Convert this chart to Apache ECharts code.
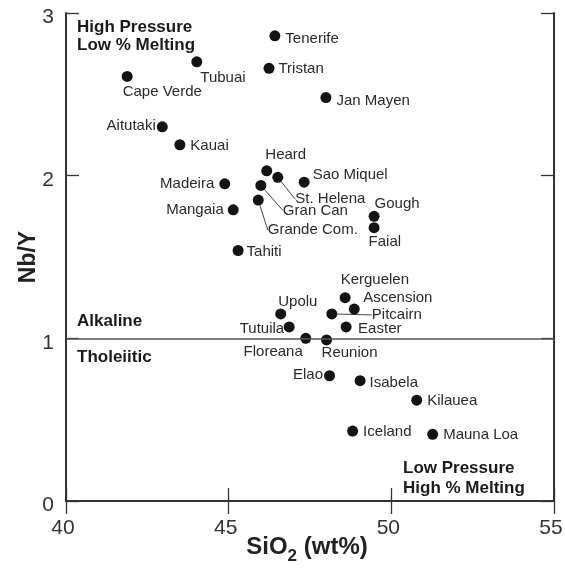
<!DOCTYPE html>
<html>
<head>
<meta charset="utf-8">
<script src="https://cdn.jsdelivr.net/npm/echarts@6/dist/echarts.min.js"></script>
<style>html,body{margin:0;padding:0;background:#fff}#c{width:565px;height:568px}</style>
</head>
<body>
<div id="c"></div>
<script>
const islands = ['Tenerife','Tristan','Tubuai','Cape Verde','Jan Mayen','Aitutaki','Kauai','Heard','St. Helena','Sao Miquel','Madeira','Gran Can','Mangaia','Grande Com.','Tahiti','Gough','Faial','Kerguelen','Ascension','Pitcairn','Easter','Upolu','Tutuila','Floreana','Reunion','Elao','Isabela','Kilauea','Iceland','Mauna Loa'];
const sio2 = [46.42,46.24,44.02,41.88,47.99,42.96,43.50,46.17,46.51,47.32,44.88,45.99,45.14,45.91,45.29,49.47,49.47,48.58,48.86,48.17,48.61,46.60,46.86,47.37,48.01,48.10,49.04,50.78,48.81,51.27];
const nbY = [2.86,2.66,2.70,2.61,2.48,2.30,2.19,2.03,1.99,1.96,1.95,1.94,1.79,1.85,1.54,1.75,1.68,1.25,1.18,1.15,1.07,1.15,1.07,1.00,0.99,0.77,0.74,0.62,0.43,0.41];
const xTicks = [40,45,50,55];
const yTicks = [0,1,2,3];
const boundary = 1; // Alkaline / Tholeiitic divide

// label placement (style only): side, nudge
const place = {
  'Tenerife':['right',[0,3]], 'Tristan':['right',[-1,1]], 'Tubuai':['right',[-7,16]],
  'Cape Verde':['right',[-15,15]], 'Jan Mayen':['right',[0,3]], 'Aitutaki':['left',[4,-1]],
  'Kauai':['right',[0,1]], 'Heard':['top',[19,2]], 'Sao Miquel':['right',[-2,-7]],
  'Madeira':['left',[0,0]], 'Mangaia':['left',[1,0]], 'Tahiti':['right',[-2,1]],
  'Gough':['right',[-10,-12]], 'Faial':['right',[-16,14]], 'Kerguelen':['right',[-15,-18]],
  'Ascension':['right',[-1.5,-11.6]], 'Easter':['right',[1.5,2]], 'Upolu':['right',[-13,-12]],
  'Tutuila':['left',[5.5,2]], 'Floreana':['left',[7.5,14]], 'Reunion':['right',[-15.5,12.4]],
  'Elao':['left',[4,-1]], 'Isabela':['right',[-1,2]], 'Kilauea':['right',[0,1]],
  'Iceland':['right',[0,1]], 'Mauna Loa':['right',[0,1]],
  'St. Helena':['right',[7,22]], 'Gran Can':['right',[11.5,25]], 'Grande Com.':['right',[-1,30]], 'Pitcairn':['right',[29.5,1]]
};
const leaders = ['St. Helena','Gran Can','Grande Com.','Pitcairn'];

const FONT = '"Liberation Sans", Arial, Helvetica, sans-serif';
const data = islands.map((n,i) => {
  const item = { name:n, value:[sio2[i], nbY[i]], label:{ position: place[n][0] } };
  if (leaders.includes(n)) {
    item.labelLine = { show: true, lineStyle: { color:'#444', width:1 } };
  }
  return item;
});

const axisCommon = {
  type:'value', min:40, max:55, interval:5,
  axisLine:{show:true, lineStyle:{color:'#333', width:2}},
  axisTick:{show:true, inside:true, length:13, lineStyle:{color:'#333', width:1.3}},
  splitLine:{show:false}
};
const yCommon = {
  type:'value', min:0, max:3, interval:1,
  axisLine:{show:true, lineStyle:{color:'#333', width:2}},
  axisTick:{show:true, inside:true, length:13, lineStyle:{color:'#333', width:1.3}},
  splitLine:{show:false}
};

const chart = echarts.init(document.getElementById('c'));
chart.setOption({
  backgroundColor:'#fff',
  animation:false,
  grid:{left:66, right:11, top:13, bottom:67, outerBoundsMode:'none'},
  xAxis:[
    Object.assign({}, axisCommon, {
      position:'bottom',
      name:'{a|SiO}{b|2}{a| (wt%)}', nameLocation:'middle', nameGap:34, nameMoveOverlap:false,
      nameTextStyle:{ padding:[0,6,0,0], rich:{
        a:{fontFamily:FONT, fontWeight:'bold', fontSize:24, color:'#222', lineHeight:30, verticalAlign:'top'},
        b:{fontFamily:FONT, fontWeight:'bold', fontSize:17, color:'#222', lineHeight:30, verticalAlign:'bottom'}
      }},
      axisLabel:{show:true, fontFamily:FONT, fontSize:21, color:'#333', margin:17, padding:[0,6,0,0],
        formatter:v => xTicks.includes(v) ? String(v) : ''}
    }),
    Object.assign({}, axisCommon, {position:'top', axisLabel:{show:false}})
  ],
  yAxis:[
    Object.assign({}, yCommon, {
      position:'left',
      name:'Nb/Y', nameLocation:'middle', nameGap:26, nameMoveOverlap:false,
      nameTextStyle:{fontFamily:FONT, fontWeight:'bold', fontSize:23, color:'#222'},
      axisLabel:{show:true, fontFamily:FONT, fontSize:21, color:'#333', margin:12,
        verticalAlign:'top', lineHeight:9,
        formatter:v => yTicks.includes(v) ? String(v) : ''}
    }),
    Object.assign({}, yCommon, {position:'right', axisLabel:{show:false}})
  ],
  series:[{
    type:'scatter',
    xAxisIndex:0, yAxisIndex:0,
    symbolSize:11,
    itemStyle:{color:'#141414', opacity:1},
    label:{show:true, formatter:'{b}', fontFamily:FONT, fontSize:15, color:'#2a2a2a', distance:5},
    labelLayout: function(p){
      const pl = place[islands[p.dataIndex]];
      return {dx:pl[1][0], dy:pl[1][1]};
    },
    data:data,
    markLine:{
      silent:true, symbol:['none','none'], label:{show:false},
      lineStyle:{color:'#555', width:1.5, type:'solid'},
      data:[{yAxis:boundary}]
    },
    z:3
  }],
  graphic:[
    {type:'text', left:77, top:18, z:10, style:{text:'High Pressure\nLow % Melting', font:'bold 17px '+FONT, fill:'#1a1a1a', lineHeight:18}},
    {type:'text', left:403, top:459, z:10, style:{text:'Low Pressure\nHigh % Melting', font:'bold 17px '+FONT, fill:'#1a1a1a', lineHeight:19.4}},
    {type:'text', left:77, top:312, z:10, style:{text:'Alkaline', font:'bold 17px '+FONT, fill:'#1a1a1a', lineHeight:18}},
    {type:'text', left:77, top:348, z:10, style:{text:'Tholeiitic', font:'bold 17px '+FONT, fill:'#1a1a1a', lineHeight:18}}
  ]
});
</script>
</body>
</html>
